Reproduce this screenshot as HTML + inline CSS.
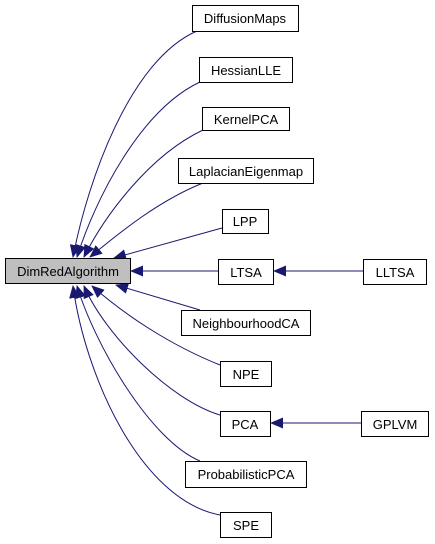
<!DOCTYPE html>
<html><head><meta charset="utf-8"><style>
html,body{margin:0;padding:0;background:#fff;}
svg{display:block;}
text{font-family:"Liberation Sans",sans-serif;font-size:13px;fill:#000;}
</style></head><body>
<svg width="435" height="544" viewBox="0 0 435 544" xmlns="http://www.w3.org/2000/svg">
<defs>
<marker id="a" markerWidth="13" markerHeight="11" refX="12" refY="5.5" orient="auto" markerUnits="userSpaceOnUse">
<path d="M0,0 L13,5.5 L0,11 Z" fill="#191970"/>
</marker>
</defs>
<g fill="none" stroke="#191970" stroke-width="1" marker-end="url(#a)">
<path d="M197,31 C130,60 88,180 73,257"/>
<path d="M200,82 C140,110 95,200 77,257"/>
<path d="M203,130 C150,155 105,215 84,257"/>
<path d="M203,183 C160,200 120,232 90,257"/>
<path d="M222,228 L114,258"/>
<path d="M218,271 L131,271"/>
<path d="M363,271 L274,271"/>
<path d="M200,310 L116,285"/>
<path d="M220,365 C170,345 125,315 92,286"/>
<path d="M220,415 C170,400 105,335 84,286"/>
<path d="M200,461 C150,440 95,345 77,286"/>
<path d="M220,515 C140,500 85,375 73,286"/>
<path d="M361,423 L271,423"/>
</g>
<g stroke="#000" stroke-width="1" fill="#fff">
<rect x="5.5" y="258.5" width="125" height="25" fill="#bfbfbf"/>
<rect x="192.5" y="5.5" width="106" height="26"/>
<rect x="199.5" y="57.5" width="93" height="25"/>
<rect x="202.5" y="107.5" width="87" height="23"/>
<rect x="178.5" y="158.5" width="135" height="25"/>
<rect x="222.5" y="209.5" width="46" height="24"/>
<rect x="218.5" y="259.5" width="55" height="25"/>
<rect x="363.5" y="259.5" width="63" height="25"/>
<rect x="181.5" y="310.5" width="129" height="25"/>
<rect x="220.5" y="361.5" width="51" height="25"/>
<rect x="220.5" y="411.5" width="50" height="25"/>
<rect x="361.5" y="411.5" width="67" height="25"/>
<rect x="185.5" y="461.5" width="121" height="26"/>
<rect x="220.5" y="512.5" width="51" height="25"/>
</g>
<g text-anchor="middle">
<text x="68" y="276">DimRedAlgorithm</text>
<text x="245" y="23">DiffusionMaps</text>
<text x="246" y="75">HessianLLE</text>
<text x="246" y="124">KernelPCA</text>
<text x="246" y="176">LaplacianEigenmap</text>
<text x="245" y="226">LPP</text>
<text x="246" y="277">LTSA</text>
<text x="395" y="277">LLTSA</text>
<text x="246" y="328">NeighbourhoodCA</text>
<text x="246" y="379">NPE</text>
<text x="245" y="429">PCA</text>
<text x="395" y="429">GPLVM</text>
<text x="246" y="479">ProbabilisticPCA</text>
<text x="246" y="530">SPE</text>
</g>
</svg>
</body></html>
